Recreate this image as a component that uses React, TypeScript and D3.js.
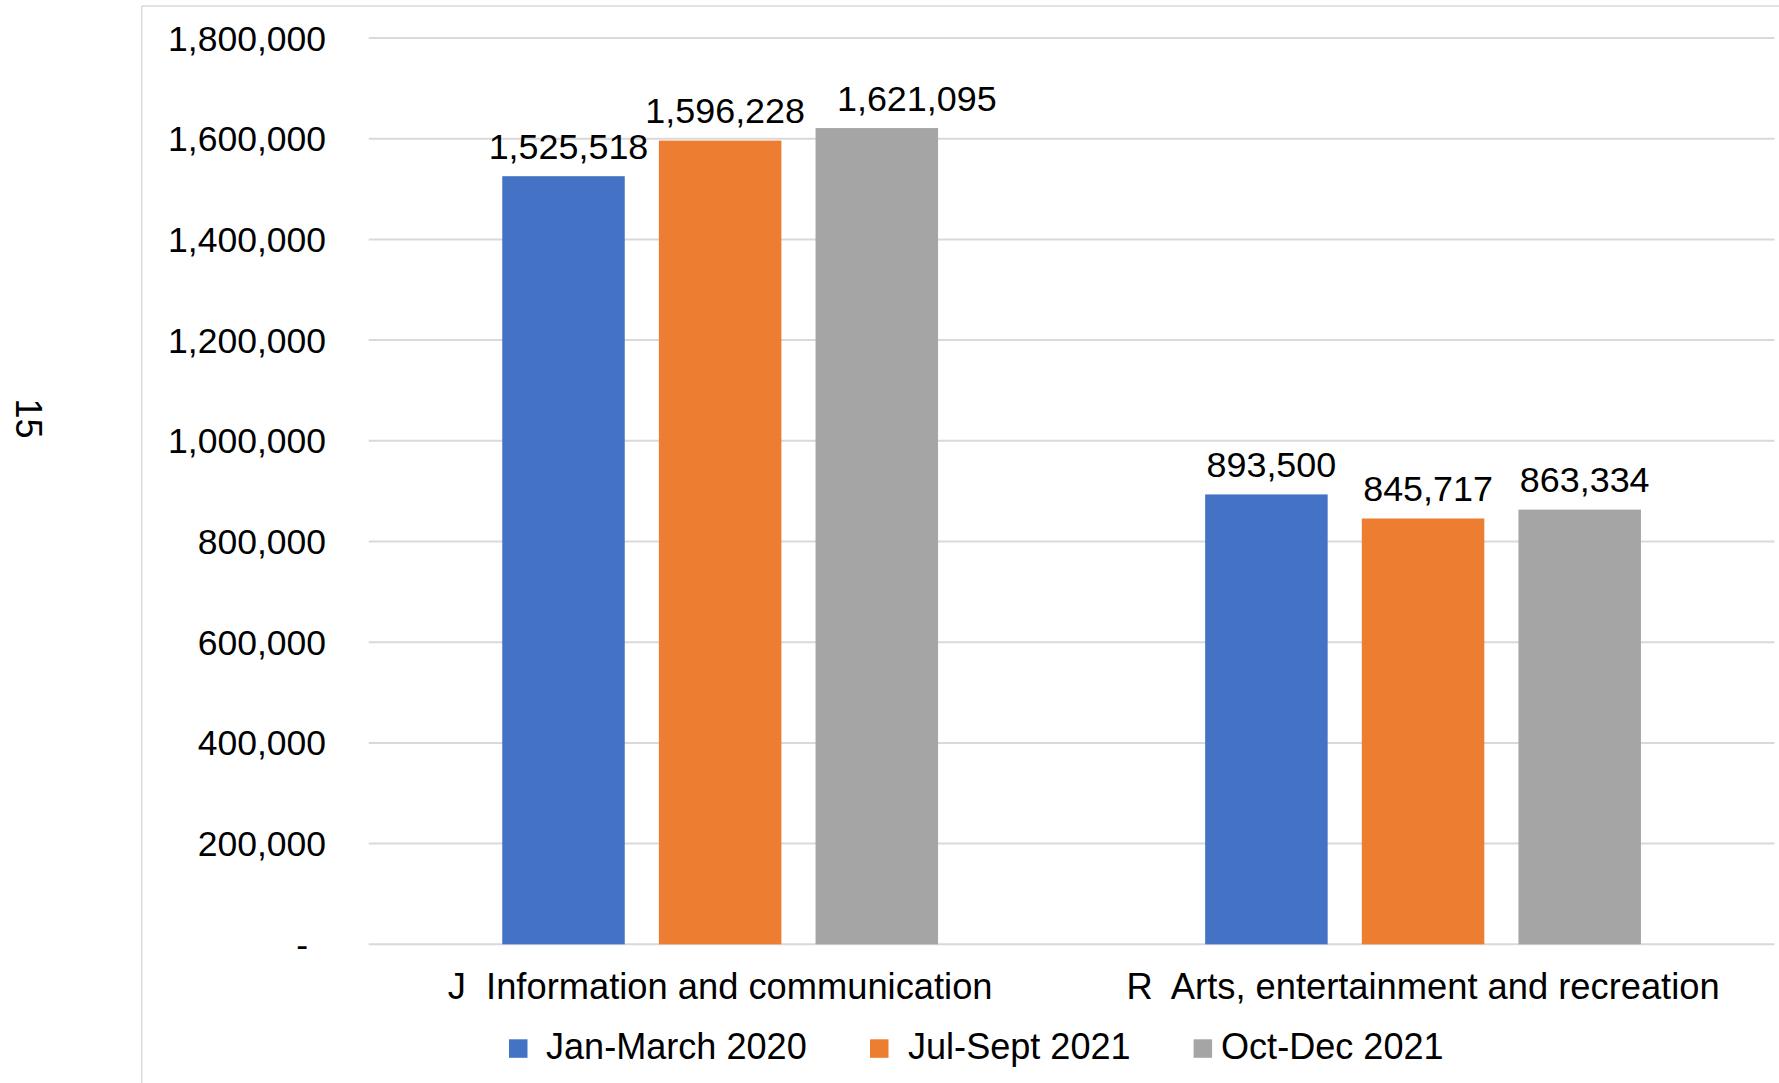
import React from "react";
import * as d3 from "d3";

const categories = ["J  Information and communication", "R  Arts, entertainment and recreation"];
const seriesNames = ["Jan-March 2020", "Jul-Sept 2021", "Oct-Dec 2021"];
const seriesColors = ["#4472C4", "#ED7D31", "#A5A5A5"];
const janMarch2020 = [1525518, 893500];
const julSept2021 = [1596228, 845717];
const octDec2021 = [1621095, 863334];
const seriesValues = [janMarch2020, julSept2021, octDec2021];
const yTicks = [0, 200000, 400000, 600000, 800000, 1000000, 1200000, 1400000, 1600000, 1800000];

const W = 1779;
const H = 1083;
const FONT = "'Liberation Sans', Arial, sans-serif";

export default function App() {
  const plotLeft = 368.7;
  const plotRight = 1774.5;
  const y0 = 944.3;
  const yTop = 38;

  const x = d3.scaleBand<string>().domain(categories).range([plotLeft, plotRight]).padding(0);
  const bw = x.bandwidth();
  const edge = bw * 0.19;
  const xs = d3
    .scaleBand<string>()
    .domain(seriesNames)
    .range([edge, bw - edge])
    .paddingInner(0.218)
    .paddingOuter(0);
  const y = d3.scaleLinear().domain([0, 1800000]).range([y0, yTop]);
  const fmt = d3.format(",");

  // label nudges (styling only)
  const labelDx = (si: number, ci: number) => (si === 2 && ci === 0 ? 40 : 5);

  const legendSquareX = [509, 870, 1193.6];
  const legendTextX = [546, 908, 1221];

  return (
    <svg
      width={W}
      height={H}
      style={{ position: "absolute", left: 0, top: 0, background: "#fff" }}
      fontFamily={FONT}
    >
      <rect x={0} y={0} width={W} height={H} fill="#fff" />
      {/* chart area border */}
      <line x1={141.7} x2={141.7} y1={6} y2={H} stroke="#D9D9D9" strokeWidth={1.5} />
      <line x1={141.7} x2={W} y1={6} y2={6} stroke="#D9D9D9" strokeWidth={1.5} />

      {/* side page number */}
      <text
        transform={`translate(28,418.5) rotate(90)`}
        textAnchor="middle"
        dominantBaseline="central"
        fontSize={36}
        fill="#000"
      >
        15
      </text>

      {/* gridlines */}
      {yTicks.map((t) => (
        <line
          key={"g" + t}
          x1={plotLeft}
          x2={plotRight}
          y1={y(t)}
          y2={y(t)}
          stroke="#D9D9D9"
          strokeWidth={2}
        />
      ))}

      {/* y tick labels */}
      {yTicks.map((t) => (
        <text
          key={"t" + t}
          x={t === 0 ? 308 : 326}
          y={y(t) + 12.5}
          textAnchor="end"
          fontSize={35.5}
          fill="#000"
        >
          {t === 0 ? "-" : fmt(t)}
        </text>
      ))}

      {/* bars */}
      {categories.map((c, ci) =>
        seriesNames.map((s, si) => {
          const v = seriesValues[si][ci];
          const bx = (x(c) as number) + (xs(s) as number);
          return (
            <rect
              key={c + s}
              x={bx}
              y={y(v)}
              width={xs.bandwidth()}
              height={y0 - y(v)}
              fill={seriesColors[si]}
            />
          );
        })
      )}

      {/* data labels */}
      {categories.map((c, ci) =>
        seriesNames.map((s, si) => {
          const v = seriesValues[si][ci];
          const cx = (x(c) as number) + (xs(s) as number) + xs.bandwidth() / 2 + labelDx(si, ci);
          return (
            <text
              key={"l" + c + s}
              x={cx}
              y={y(v) - 17.5}
              textAnchor="middle"
              fontSize={35.9}
              fill="#000"
            >
              {fmt(v)}
            </text>
          );
        })
      )}

      {/* category labels */}
      {categories.map((c) => (
        <text
          key={"c" + c}
          x={(x(c) as number) + bw / 2}
          y={999}
          textAnchor="middle"
          fontSize={36.3}
          fill="#000"
          style={{ whiteSpace: "pre" }}
        >
          {c}
        </text>
      ))}

      {/* legend */}
      {seriesNames.map((s, si) => (
        <g key={"lg" + s}>
          <rect x={legendSquareX[si]} y={1039.3} width={18.5} height={18.5} fill={seriesColors[si]} />
          <text x={legendTextX[si]} y={1058.5} fontSize={36.1} fill="#000">
            {s}
          </text>
        </g>
      ))}
    </svg>
  );
}
